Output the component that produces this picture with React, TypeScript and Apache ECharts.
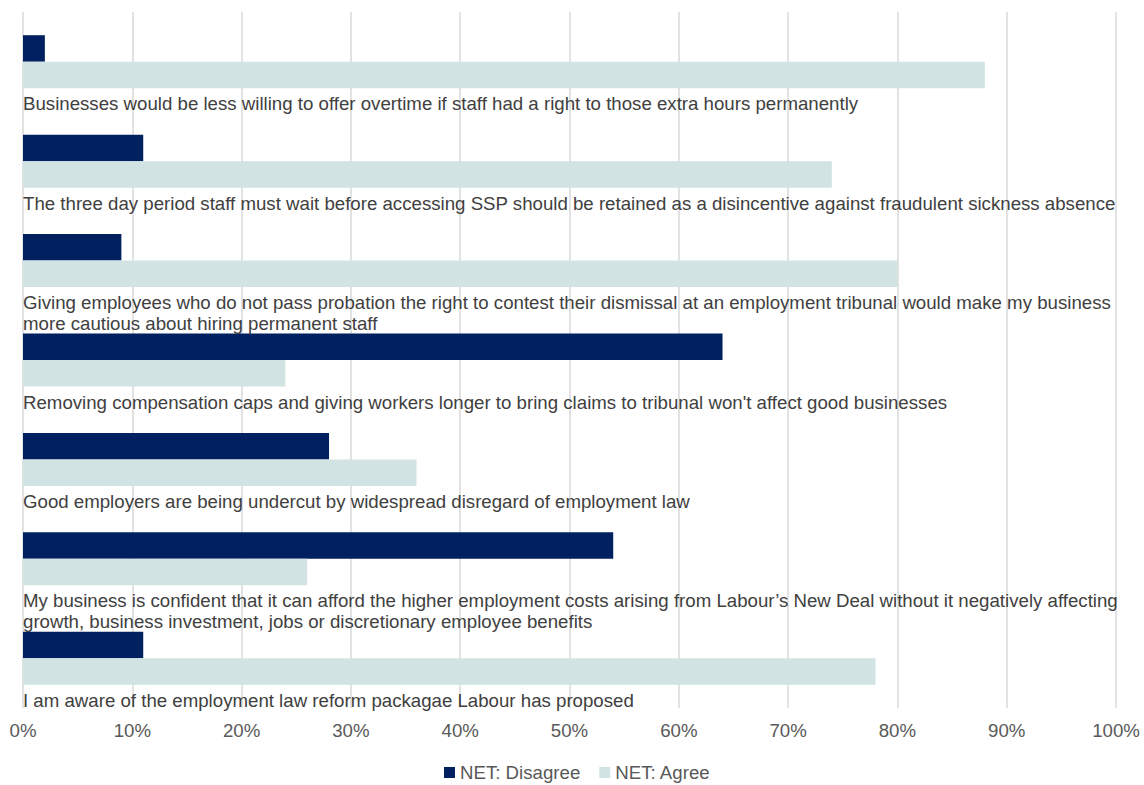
import React, { useEffect, useRef } from "react";
import * as echarts from "echarts";

const categories: string[] = [
  "Businesses would be less willing to offer overtime if staff had a right to those extra hours permanently",
  "The three day period staff must wait before accessing SSP should be retained as a disincentive against fraudulent sickness absence",
  "Giving employees who do not pass probation the right to contest their dismissal at an employment tribunal would make my business more cautious about hiring permanent staff",
  "Removing compensation caps and giving workers longer to bring claims to tribunal won't affect good businesses",
  "Good employers are being undercut by widespread disregard of employment law",
  "My business is confident that it can afford the higher employment costs arising from Labour\u2019s New Deal without it negatively affecting growth, business investment, jobs or discretionary employee benefits",
  "I am aware of the employment law reform packagae Labour has proposed",
];

const disagreeValues: number[] = [2, 11, 9, 64, 28, 54, 11];
const agreeValues: number[] = [88, 74, 80, 24, 36, 26, 78];

const seriesNames: string[] = ["NET: Disagree", "NET: Agree"];

const axisMin = 0;
const axisMax = 100;
const axisInterval = 10;

const FONT = '"Liberation Sans", Arial, Helvetica, sans-serif';
const FS = 18.67;

export default function App() {
  const ref = useRef<HTMLDivElement>(null);

  useEffect(() => {
    if (!ref.current) return;
    const chart = echarts.init(ref.current, undefined, { renderer: "svg" });
    chart.setOption({
      animation: false,
      backgroundColor: "#ffffff",
      textStyle: { fontFamily: FONT },
      grid: { left: 23, right: 28, top: 12, bottom: 77, containLabel: false },
      legend: {
        data: seriesNames,
        left: 439,
        top: 758,
        icon: "rect",
        itemWidth: 11,
        itemHeight: 11,
        itemGap: 19,
        selectedMode: false,
        textStyle: { fontFamily: FONT, fontSize: FS, color: "#595959" },
      },
      xAxis: {
        type: "value",
        min: axisMin,
        max: axisMax,
        interval: axisInterval,
        axisLine: { show: false },
        axisTick: { show: false },
        axisLabel: {
          formatter: "{value}%",
          fontFamily: FONT,
          fontSize: FS,
          color: "#595959",
          margin: 13,
        },
        splitLine: { show: true, lineStyle: { color: "#D9D9D9", width: 1.5 } },
      },
      yAxis: {
        type: "category",
        data: categories,
        inverse: true,
        axisLine: { show: false },
        axisTick: { show: false },
        axisLabel: { show: false },
        splitLine: { show: false },
      },
      series: [
        {
          name: seriesNames[0],
          type: "bar",
          data: disagreeValues,
          barWidth: 26.5,
          barGap: "0%",
          itemStyle: { color: "#002060" },
        },
        {
          name: seriesNames[1],
          type: "bar",
          data: agreeValues,
          barWidth: 26.5,
          barGap: "0%",
          itemStyle: { color: "#D2E3E3" },
          label: {
            show: true,
            position: ["0%", "100%"],
            offset: [0, 5],
            align: "left",
            verticalAlign: "top",
            formatter: (p: any) => p.name,
            fontFamily: FONT,
            fontSize: FS,
            lineHeight: 21,
            color: "#404040",
            width: 1125,
            overflow: "break",
          },
        },
      ],
    });
    return () => chart.dispose();
  }, []);

  return (
    <div
      ref={ref}
      style={{ position: "absolute", left: 0, top: 0, width: 1144, height: 785 }}
    />
  );
}
